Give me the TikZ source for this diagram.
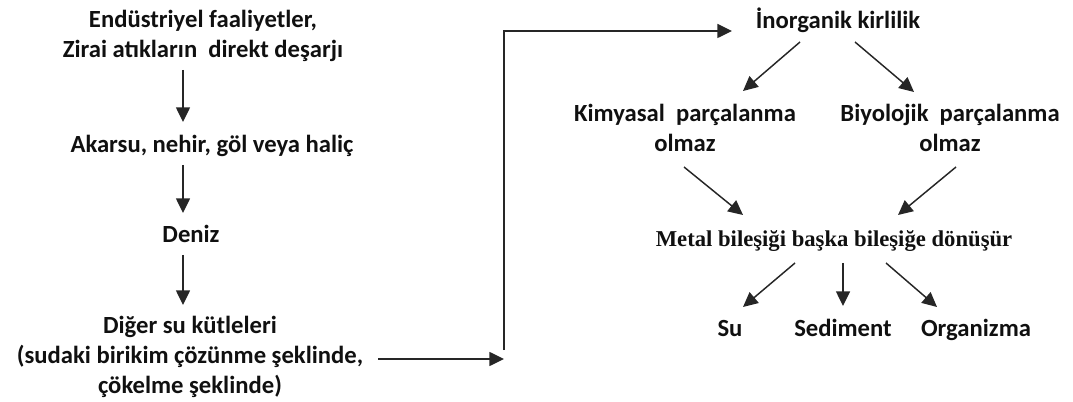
\documentclass[tikz,border=0pt]{standalone}
\usepackage{fontspec}
\setmainfont{Carlito}
\newfontfamily\serifbold{Liberation Serif}
\usepackage{xcolor}
\usepackage{tikz}
\usetikzlibrary{positioning,arrows.meta,calc}
\definecolor{LineDark}{HTML}{262626}
\definecolor{TextDark}{HTML}{101010}

\begin{document}
\begin{tikzpicture}[x=0.75pt,y=-0.75pt,
    every node/.style={font=\bfseries\fontsize{18.5}{22.5}\selectfont,
                       inner sep=3pt, align=center, anchor=base, text=TextDark},
    ar/.style={-{Triangle[length=11pt,width=10.5pt]},LineDark,line width=1.1pt}]
  \useasboundingbox (0,0) rectangle (1073,402);
  \node (src)    at (203,58)  {Endüstriyel faaliyetler,\\ Zirai atıkların~ direkt deşarjı};
  \node (akarsu) at (212,153) {Akarsu, nehir, göl veya haliç};
  \node (deniz)  at (191,243) {Deniz};
  \node (diger)  at (190,393) {Diğer su kütleleri\\ (sudaki birikim çözünme şeklinde,\\ çökelme şeklinde)};
  \node (inorg)  at (838,29)  {İnorganik kirlilik};
  \node (kimya)  at (685,152) {Kimyasal~ parçalanma\\ olmaz};
  \node (biyo)   at (950,152) {Biyolojik~ parçalanma\\ olmaz};
  \node[font=\serifbold\bfseries\fontsize{17}{20}\selectfont]
        (metal)  at (834,247) {Metal bileşiği başka bileşiğe dönüşür};
  \node (su)     at (730,336) {Su};
  \node (sed)    at (843,336) {Sediment};
  \node (org)    at (976,336) {Organizma};
  \coordinate (jn) at (504,359);
  \draw[ar] ($(src.base)+(-20,12)$)    -- ($(akarsu.base)+(-29,-31)$);
  \draw[ar] ($(akarsu.base)+(-29,12)$) -- ($(deniz.base)+(-8,-30)$);
  \draw[ar] ($(deniz.base)+(-8,12)$)   -- ($(diger.base)+(-7,-88)$);
  \draw[ar] ($(diger.base)+(188,-34)$) -- (jn);
  \draw[ar] ($(jn)+(0,-9)$) |- ($(inorg.base)+(-106,2)$);
  \draw[ar] ($(inorg.base)+(-38,13)$)  -- ($(kimya.base)+(58,-61)$);
  \draw[ar] ($(inorg.base)+(17,13)$)   -- ($(biyo.base)+(-36,-60)$);
  \draw[ar] ($(kimya.base)+(-1,15)$)   -- ($(metal.base)+(-91,-32)$);
  \draw[ar] ($(biyo.base)+(6,15)$)     -- ($(metal.base)+(64,-32)$);
  \draw[ar] ($(metal.base)+(-39,16)$)  -- ($(su.base)+(13,-29)$);
  \draw[ar] ($(metal.base)+(9,16)$)    -- ($(sed.base)+(0,-30)$);
  \draw[ar] ($(metal.base)+(52,16)$)   -- ($(org.base)+(-39,-29)$);
\end{tikzpicture}
\end{document}
